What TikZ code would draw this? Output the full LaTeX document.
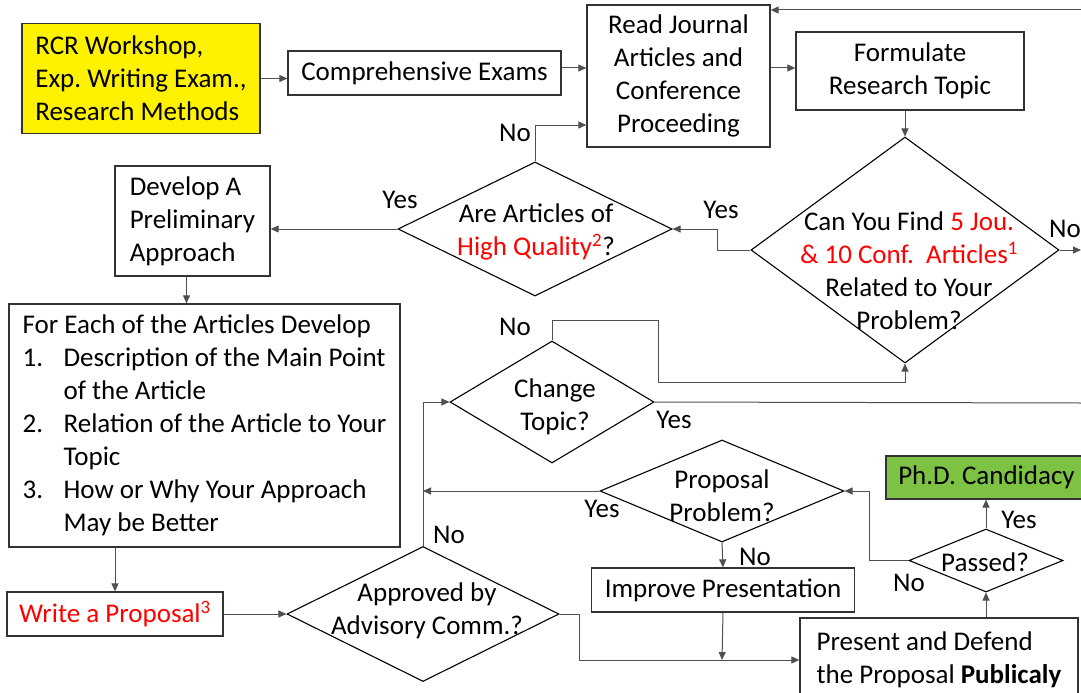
\documentclass[tikz,border=0pt]{standalone}
\usepackage{fontspec}
\setmainfont{Carlito}
\usetikzlibrary{shapes.geometric,arrows.meta,calc}
\definecolor{phdgreen}{RGB}{125,194,66}
\definecolor{connc}{RGB}{80,80,80}
\begin{document}
\frenchspacing
\begin{tikzpicture}[x=1pt,y=-1pt,
  font=\fontsize{27}{33}\selectfont,
  box/.style={draw=black!80, line width=1.3pt, rectangle, inner sep=0pt, align=left},
  cbox/.style={box, align=center},
  dia/.style={draw=black, line width=1.1pt, diamond, inner sep=0pt},
  dtext/.style={inner sep=0pt, align=center},
  conn/.style={draw=connc, line width=1pt},
  arr/.style={conn, -{Triangle[length=8pt,width=7pt]}},
  lbl/.style={inner sep=0pt}]
\useasboundingbox[fill=white] (0,0) rectangle (1081,693);

% boxes
\node[box, fill=yellow, minimum width=238pt, minimum height=110pt] (rcr) at (141,78.5)
  {RCR Workshop,\\Exp. Writing Exam.,\\Research Methods};
\node[cbox, minimum width=273pt, minimum height=44pt] (comp) at (424.5,73) {Comprehensive Exams};
\node[cbox, minimum width=183pt, minimum height=142pt] (read) at (678.5,76)
  {Read Journal\\Articles and\\Conference\\Proceeding};
\node[cbox, minimum width=228pt, minimum height=78pt] (form) at (910,71)
  {Formulate\\Research Topic};
\node[box, minimum width=155pt, minimum height=110pt] (dev) at (192.5,221)
  {Develop A\\Preliminary\\Approach};
\node[box, minimum width=391pt, minimum height=243pt] (each) at (204.5,425.5)
  {For Each of the Articles Develop\\
   \makebox[41pt][l]{1.}Description of the Main Point\\
   \hspace*{41pt}of the Article\\
   \makebox[41pt][l]{2.}Relation of the Article to Your\\
   \hspace*{41pt}Topic\\
   \makebox[41pt][l]{3.}How or Why Your Approach\\
   \hspace*{41pt}May be Better};
\node[cbox, minimum width=216pt, minimum height=44pt] (write) at (115,614)
  {\textcolor{red}{Write a Proposal\textsuperscript{3}}};
\node[cbox, minimum width=263pt, minimum height=44pt] (impr) at (723,590) {Improve Presentation};
\node[box, minimum width=278pt, minimum height=84pt] (pres) at (939,660)
  {Present and Defend\\the Proposal \textbf{Publicaly}};
\node[cbox, fill=phdgreen, minimum width=201pt, minimum height=43pt] (phd) at (986.5,477.5)
  {Ph.D. Candidacy};

% diamonds
\node[dia, minimum width=308pt, minimum height=226pt] (find) at (905,250) {};
\node[dtext] (findt) at (909,271)
  {Can You Find \textcolor{red}{5 Jou.}\\\textcolor{red}{\& 10 Conf.\ \ Articles\textsuperscript{1}}\\Related to Your\\Problem?};
\node[dia, minimum width=274pt, minimum height=134pt] (qual) at (535,229) {};
\node[dtext] (qualt) at (536,232)
  {Are Articles of\\\textcolor{red}{High Quality\textsuperscript{2}}?};
\node[dia, minimum width=204pt, minimum height=122pt] (chg) at (552,402) {};
\node[dtext] (chgt) at (555,407) {Change\\Topic?};
\node[dia, minimum width=244pt, minimum height=102pt] (prop) at (722,491) {};
\node[dtext] (propt) at (722,496) {Proposal\\Problem?};
\node[dia, minimum width=272pt, minimum height=135pt] (appr) at (423,614) {};
\node[dtext] (apprt) at (427,611) {Approved by\\Advisory Comm.?};
\node[dia, minimum width=154pt, minimum height=63pt] (pass) at (986,560.5) {};
\node[dtext] (passt) at (985,562) {Passed?};

% coordinates for free ends / bends
\coordinate (topedge) at (1081,10);
\coordinate (noedge) at (1081,250);
\coordinate (yesedge) at (1081,403);
\coordinate (cn1) at (658,320);
\coordinate (cn2) at (658,382);
\coordinate (merge) at (722,660);

% connectors
\draw[arr] (rcr.east) -- (rcr.east -| comp.west);
\draw[arr] ([yshift=5pt]comp.east) -- ([yshift=5pt]comp.east -| read.west);
\draw[arr] ([yshift=8pt]read.east) -- ([yshift=8pt]read.east -| form.west);
\draw[arr] (topedge) -- (topedge -| read.east);
\draw[arr] (form.south -| find.north) -- (find.north);
\draw[arr] (find.east) -- (noedge);
\draw[arr] (find.west) -- ++(-33,0) |- (qual.east);
\draw[arr] (qual.west) -- (qual.west -| dev.east);
\draw[arr] (qual.north) |- ([yshift=-49pt]read.west);
\draw[arr] ([xshift=-6pt]dev.south) -- ([xshift=-6pt]dev.south |- each.north);
\draw[arr] (write.north |- each.south) -- (write.north);
\draw[arr] (write.east) -- (appr.west);
\draw[arr] (appr.north) |- (chg.west);
\draw[arr] (prop.west) -- (prop.west -| appr.north);
\draw[arr] (prop.south) -- (impr.north);
\draw[arr] (chg.north) |- (cn1) -- (cn2) -| (find.south);
\draw[conn] (chg.east) -- (yesedge);
\draw[arr] (impr.south) -- (merge);
\draw[arr] (appr.east) -- ++(20,0) |- (pres.west);
\draw[arr] (pass.south |- pres.north) -- (pass.south);
\draw[arr] (pass.north) -- (pass.north |- phd.south);
\draw[arr] (pass.west) -- ++(-39,0) |- (prop.east);

% labels
\node[lbl] (l1) at (721,210) {Yes};
\node[lbl] (l2) at (400,200) {Yes};
\node[lbl] (l3) at (515,133) {No};
\node[lbl, anchor=west] (l4) at (1049,229) {No};
\node[lbl] (l5) at (515,327) {No};
\node[lbl] (l6) at (674,420) {Yes};
\node[lbl] (l7) at (602,509) {Yes};
\node[lbl] (l8) at (755,557) {No};
\node[lbl] (l9) at (449,535) {No};
\node[lbl] (l10) at (1019,520) {Yes};
\node[lbl] (l11) at (909,583) {No};
\end{tikzpicture}
\end{document}
